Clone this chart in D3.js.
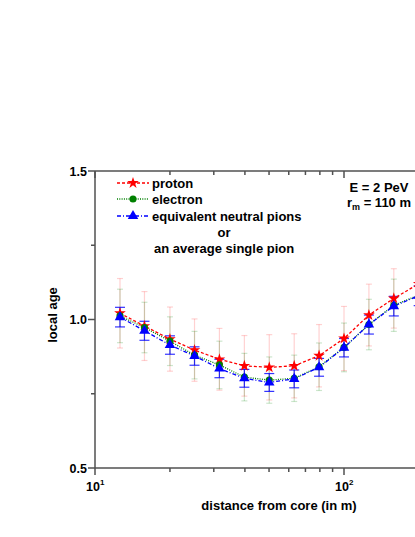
<!DOCTYPE html>
<html>
<head>
<meta charset="utf-8">
<script src="https://cdn.jsdelivr.net/npm/d3@7"></script>
<style>
  body { margin: 0; background: #fff; }
  text { font-family: "Liberation Sans", Arial, sans-serif; font-weight: bold; fill: #000; }
</style>
</head>
<body>
<div id="container"></div>
<script>
/* DATA */
const distance = [12.6, 15.8, 20.0, 25.1, 31.6, 39.8, 50.1, 63.1, 79.4, 100, 125.9, 158.5, 199.5];

const protonAge   = [1.021, 0.978, 0.934, 0.897, 0.866, 0.844, 0.839, 0.844, 0.878, 0.936, 1.015, 1.071, 1.120];
const protonErr   = [0.117, 0.116, 0.108, 0.105, 0.104, 0.102, 0.110, 0.108, 0.105, 0.108, 0.104, 0.100, 0.100];

const electronAge = [1.012, 0.973, 0.927, 0.880, 0.847, 0.806, 0.796, 0.802, 0.841, 0.906, 0.983, 1.048, 1.082];
const electronErr = [0.090, 0.085, 0.082, 0.080, 0.080, 0.080, 0.078, 0.078, 0.080, 0.082, 0.085, 0.088, 0.088];

const pionAge     = [1.008, 0.962, 0.914, 0.877, 0.835, 0.802, 0.788, 0.800, 0.839, 0.905, 0.983, 1.045, 1.080];
const pionErr     = [0.033, 0.032, 0.031, 0.031, 0.031, 0.030, 0.030, 0.030, 0.030, 0.031, 0.032, 0.033, 0.033];

const yTicks = [0.5, 1.0, 1.5];
const yMinorTicks = [0.75, 1.25];
const xMajorTicks = [10, 100];
const xMinorTicks = [20, 30, 40, 50, 60, 70, 80, 90, 200, 300];

const legendLabels = ["proton", "electron", "equivalent neutral pions"];

/* CONSTANTS */
const width = 415, height = 537;
const plotLeft = 95, plotTop = 171, plotBottom = 468;
const decade = 249;
const axisColor = "#505050";

const svg = d3.select("#container").append("svg")
  .attr("width", width)
  .attr("height", height);

const xScale = d3.scaleLog()
  .domain([10, Math.pow(10, 2.5)])
  .range([plotLeft, plotLeft + 1.5 * decade]);

const yScale = d3.scaleLinear()
  .domain([0.5, 1.5])
  .range([plotBottom, plotTop]);

svg.append("defs").append("clipPath").attr("id", "plot")
  .append("rect")
  .attr("x", plotLeft).attr("y", plotTop)
  .attr("width", 1.5 * decade).attr("height", plotBottom - plotTop);

const series = [
  { name: "proton", age: protonAge, err: protonErr, color: "#ff0000", dash: "3,2",
    symbol: d3.symbolStar, size: 42, errOpacity: 0.18, cap: false },
  { name: "electron", age: electronAge, err: electronErr, color: "#008000", dash: "1,1.3",
    symbol: d3.symbolCircle, size: 40, errOpacity: 0.2, cap: false },
  { name: "pion", age: pionAge, err: pionErr, color: "#0000ff", dash: "4,2,1,2",
    symbol: d3.symbolTriangle, size: 48, errOpacity: 0.8, cap: true }
];

const plot = svg.append("g").attr("clip-path", "url(#plot)");

// error bars first (faded ones drawn behind)
series.forEach(s => {
  const g = plot.append("g").attr("stroke", s.color).attr("stroke-opacity", s.errOpacity).attr("stroke-width", 1.2);
  distance.forEach((d, i) => {
    const x = xScale(d);
    const y0 = yScale(s.age[i] - s.err[i]);
    const y1 = yScale(s.age[i] + s.err[i]);
    const w = s.cap ? 5 : 3;
    g.append("line").attr("x1", x).attr("x2", x).attr("y1", y0).attr("y2", y1);
    g.append("line").attr("x1", x - w).attr("x2", x + w).attr("y1", y0).attr("y2", y0);
    g.append("line").attr("x1", x - w).attr("x2", x + w).attr("y1", y1).attr("y2", y1);
  });
});

const line = d3.line()
  .x(d => xScale(d[0]))
  .y(d => yScale(d[1]));

series.forEach(s => {
  plot.append("path")
    .datum(distance.map((d, i) => [d, s.age[i]]))
    .attr("d", line)
    .attr("fill", "none")
    .attr("stroke", s.color)
    .attr("stroke-width", 1.3)
    .attr("stroke-dasharray", s.dash);
});

series.forEach(s => {
  plot.append("g").selectAll("path")
    .data(distance.map((d, i) => [d, s.age[i]]))
    .join("path")
    .attr("transform", d => `translate(${xScale(d[0])},${yScale(d[1])})`)
    .attr("d", d3.symbol().type(s.symbol).size(s.size))
    .attr("fill", s.color);
});

/* AXES */
const axes = svg.append("g").attr("stroke", axisColor).attr("stroke-width", 1.5);
const xEnd = width + 5;
// frame lines
axes.append("line").attr("x1", plotLeft).attr("x2", xEnd).attr("y1", plotBottom).attr("y2", plotBottom);
axes.append("line").attr("x1", plotLeft).attr("x2", xEnd).attr("y1", plotTop).attr("y2", plotTop);
axes.append("line").attr("x1", plotLeft).attr("x2", plotLeft).attr("y1", plotTop).attr("y2", plotBottom);

// y ticks (outside)
yTicks.forEach(t => {
  axes.append("line").attr("x1", plotLeft - 7).attr("x2", plotLeft).attr("y1", yScale(t)).attr("y2", yScale(t));
});
yMinorTicks.forEach(t => {
  axes.append("line").attr("x1", plotLeft - 4).attr("x2", plotLeft).attr("y1", yScale(t)).attr("y2", yScale(t));
});
// x ticks: bottom outside, top inside
xMajorTicks.forEach(t => {
  axes.append("line").attr("x1", xScale(t)).attr("x2", xScale(t)).attr("y1", plotBottom).attr("y2", plotBottom + 7);
  axes.append("line").attr("x1", xScale(t)).attr("x2", xScale(t)).attr("y1", plotTop).attr("y2", plotTop + 7);
});
xMinorTicks.forEach(t => {
  axes.append("line").attr("x1", xScale(t)).attr("x2", xScale(t)).attr("y1", plotBottom).attr("y2", plotBottom + 4);
  axes.append("line").attr("x1", xScale(t)).attr("x2", xScale(t)).attr("y1", plotTop).attr("y2", plotTop + 4);
});

// y tick labels
svg.append("g").selectAll("text")
  .data(yTicks)
  .join("text")
  .attr("x", plotLeft - 8)
  .attr("y", d => yScale(d) + 4.5)
  .attr("text-anchor", "end")
  .attr("font-size", 12.5)
  .text(d => d.toFixed(1));

// x tick labels 10^n
xMajorTicks.forEach(t => {
  const lab = svg.append("text")
    .attr("x", xScale(t) - 9)
    .attr("y", plotBottom + 23)
    .attr("font-size", 12.5);
  lab.append("tspan").text("10");
  lab.append("tspan").attr("font-size", 8).attr("dy", -6).text(Math.round(Math.log10(t)));
});

// axis titles
svg.append("text")
  .attr("x", 279)
  .attr("y", 510)
  .attr("text-anchor", "middle")
  .attr("font-size", 13)
  .text("distance from core (in m)");

svg.append("text")
  .attr("transform", "translate(57,315) rotate(-90)")
  .attr("text-anchor", "middle")
  .attr("font-size", 13)
  .text("local age");

/* LEGEND */
const legend = svg.append("g");
const legendY = [183, 199, 216];
series.forEach((s, i) => {
  const y = legendY[i];
  legend.append("line")
    .attr("x1", 117).attr("x2", 149).attr("y1", y).attr("y2", y)
    .attr("stroke", s.color).attr("stroke-width", 1.3).attr("stroke-dasharray", s.dash);
  legend.append("path")
    .attr("transform", `translate(133,${y})`)
    .attr("d", d3.symbol().type(s.symbol).size(s.size))
    .attr("fill", s.color);
  legend.append("text")
    .attr("x", 152).attr("y", y + 4.5)
    .attr("font-size", 13)
    .text(legendLabels[i]);
});
legend.append("text").attr("x", 224).attr("y", 237).attr("text-anchor", "middle").attr("font-size", 13).text("or");
legend.append("text").attr("x", 154).attr("y", 253).attr("font-size", 13).text("an average single pion");

// energy / radius annotation
svg.append("text").attr("x", 379).attr("y", 192).attr("text-anchor", "middle").attr("font-size", 13).text("E = 2 PeV");
const rm = svg.append("text").attr("x", 379).attr("y", 207).attr("text-anchor", "middle").attr("font-size", 13);
rm.append("tspan").text("r");
rm.append("tspan").attr("font-size", 9).attr("dy", 3).text("m");
rm.append("tspan").attr("dy", -3).text(" = 110 m");
</script>
</body>
</html>
